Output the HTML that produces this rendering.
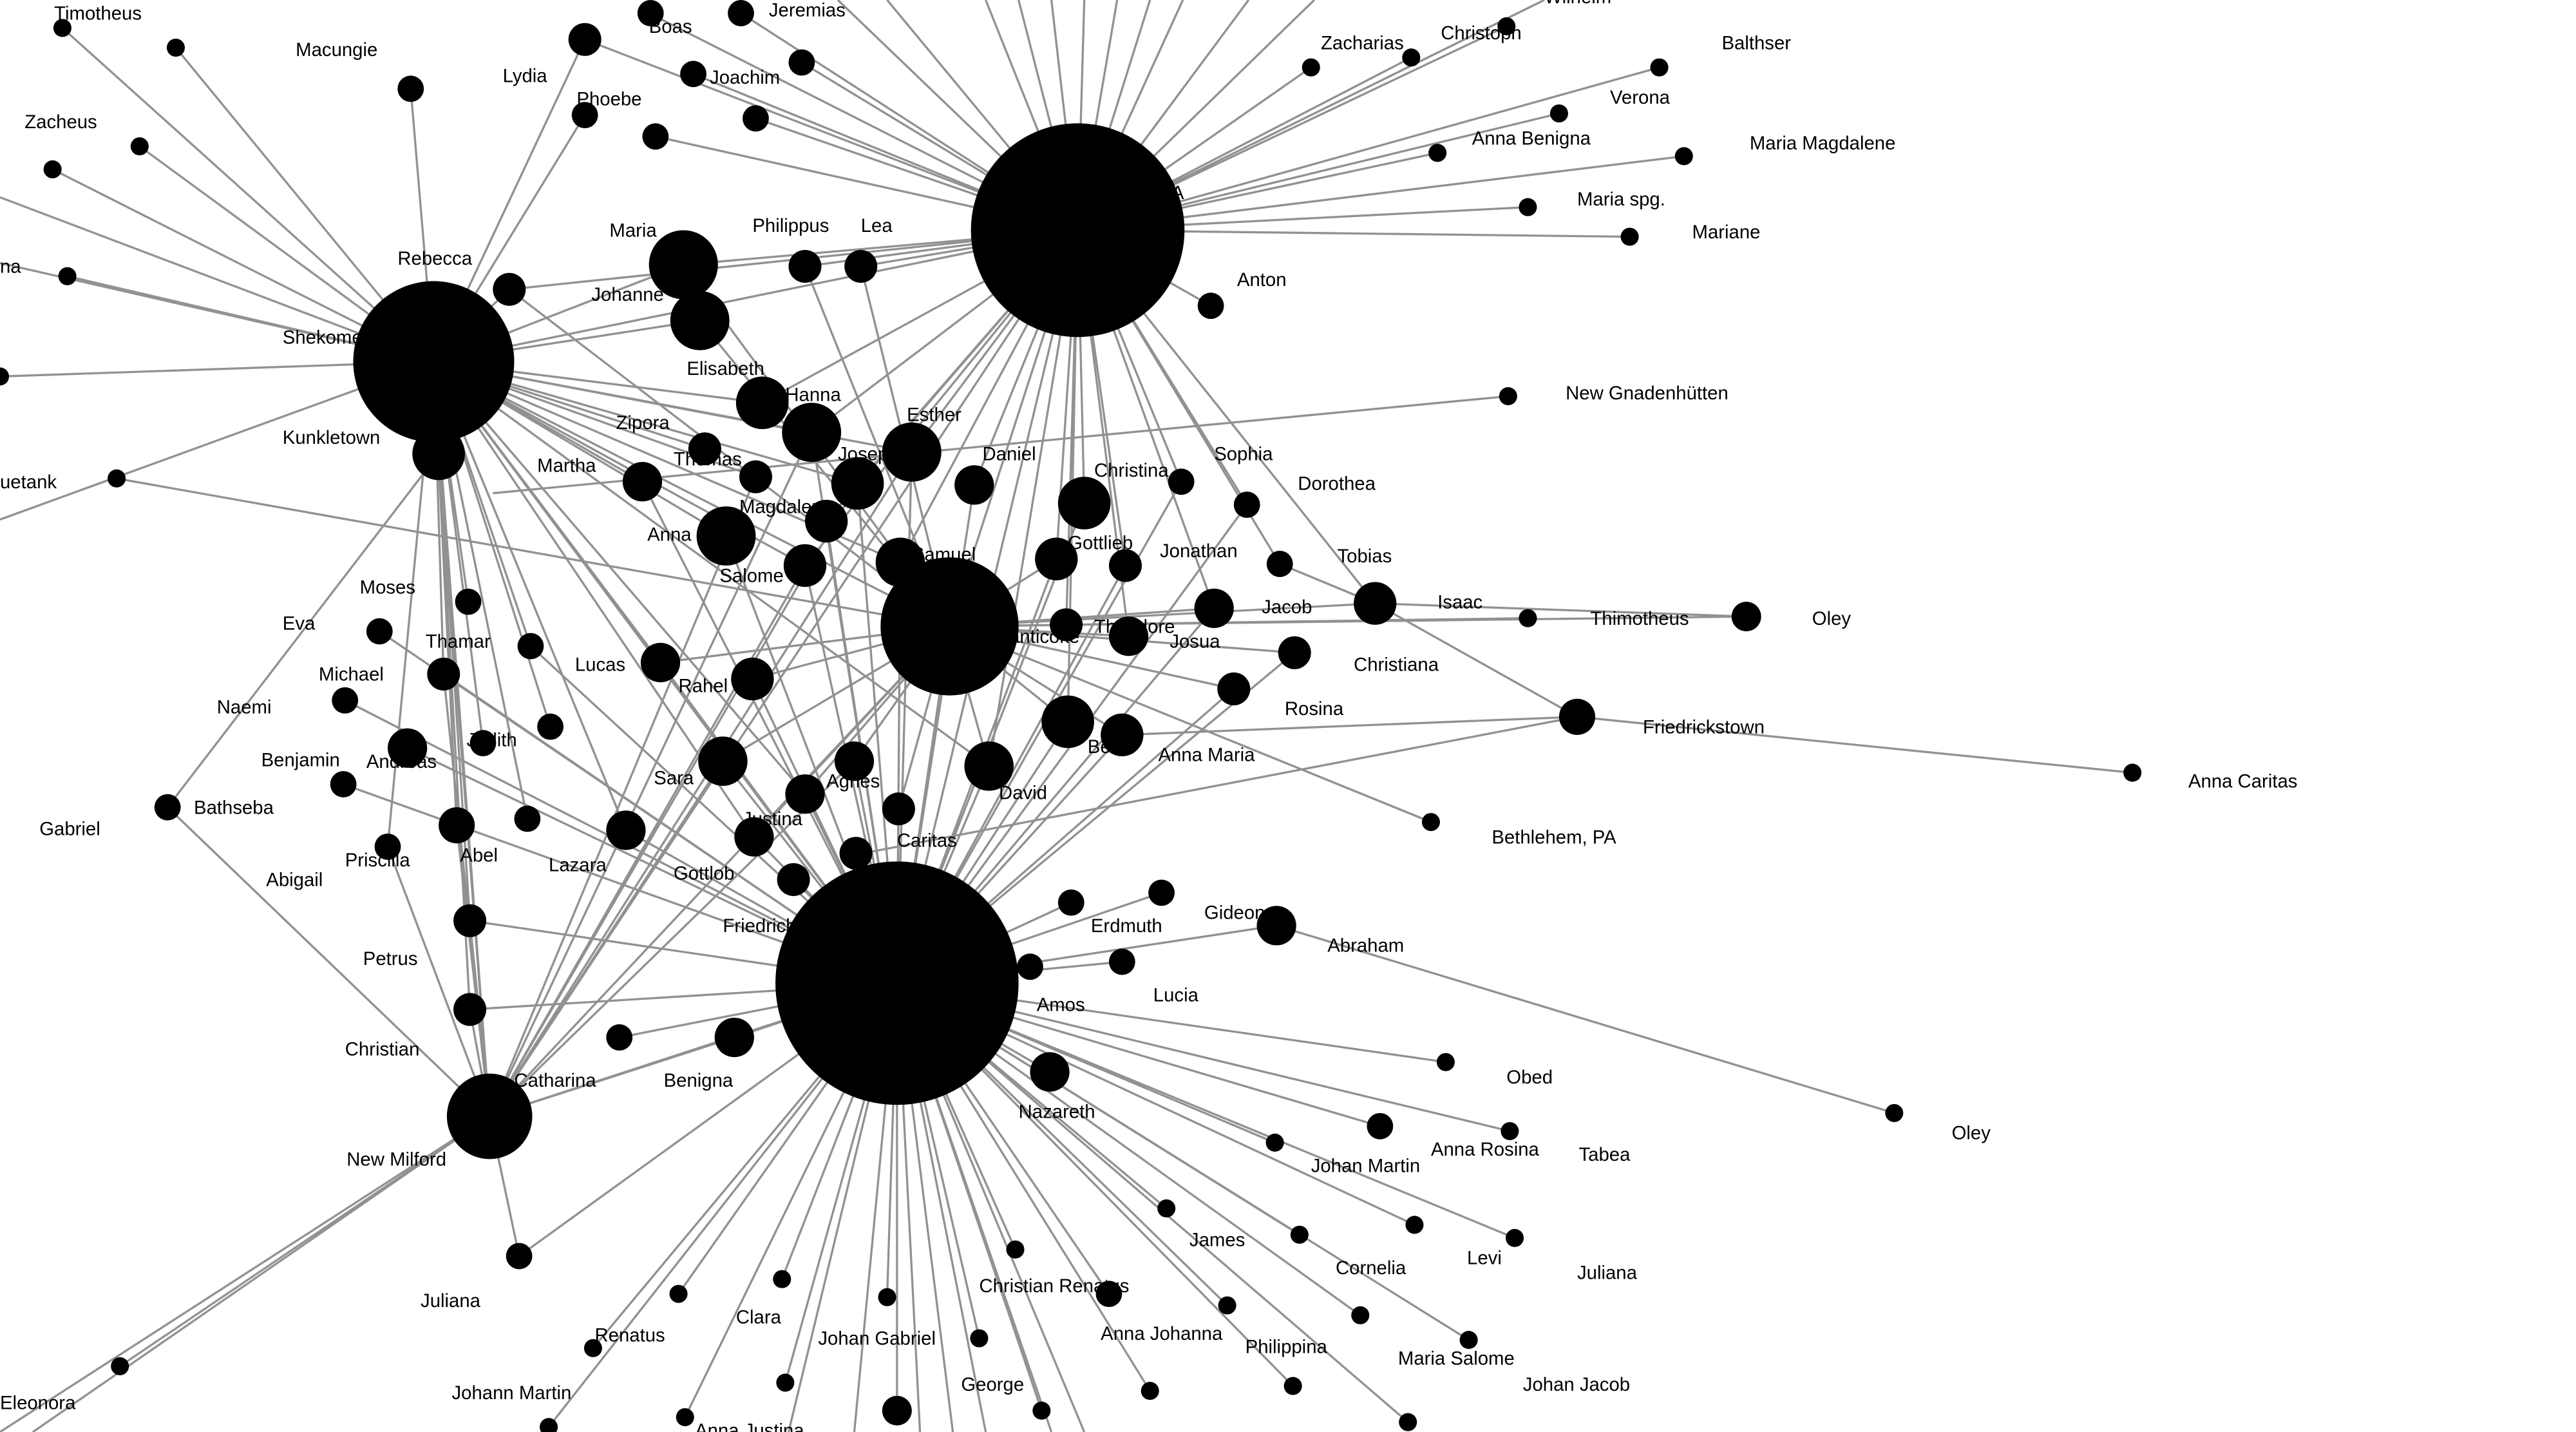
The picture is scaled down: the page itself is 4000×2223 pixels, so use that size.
<!DOCTYPE html>
<html><head><meta charset="utf-8"><style>
html,body{margin:0;padding:0;background:#fff;width:4000px;height:2223px;overflow:hidden}
svg{display:block}
text{font-family:"Liberation Sans",Arial,sans-serif;font-size:11.5px;fill:#000}
</style></head><body>
<svg width="4000" height="2223" viewBox="0 0 1568 871" preserveAspectRatio="none" xmlns="http://www.w3.org/2000/svg">
<rect width="1568" height="871" fill="#fff"/>
<g stroke="#8c8c8c" stroke-width="1.3" fill="none" opacity="0.95">
<path d="M656 140L356 24M656 140L395 8M656 140L451 8M656 140L488 38M656 140L422 45M656 140L460 72M656 140L399 83M656 140L416 161M656 140L490 162M656 140L524 162M656 140L310 176M656 140L264 220M656 140L737 186M656 140L798 41M656 140L859 35M656 140L917 16M656 140L1010 41M656 140L949 69M656 140L875 93M656 140L1025 95M656 140L930 126M656 140L992 144M656 140L600 0M656 140L620 0M656 140L640 0M656 140L660 0M656 140L680 0M656 140L700 0M656 140L720 0M656 140L760 0M656 140L800 0M656 140L540 0M656 140L510 0M656 140L940 0M656 140L660 306M656 140L643 340M656 140L685 344M656 140L719 293M656 140L759 307M656 140L779 343M656 140L837 367M656 140L578 381M656 140L546 598M656 140L555 275M656 140L593 295M656 140L522 294M656 140L494 263M656 140L464 245M656 140L739 370M656 140L649 380M656 140L687 387M656 140L548 342M656 140L503 317M656 140L602 466M656 140L650 439M656 140L298 679M656 140L490 344"/>
<path d="M264 220L107 29M264 220L38 17M264 220L250 54M264 220L85 89M264 220L32 103M264 220L41 168M264 220L0 229M264 220L0 160M264 220L0 316M264 220L356 70M264 220L356 24M264 220L310 176M264 220L416 161M264 220L426 195M264 220L464 245M264 220L494 263M264 220L429 273M264 220L460 290M264 220L391 293M264 220L442 326M264 220L490 344M264 220L548 342M264 220L578 381M264 220L546 598M264 220L267 276M264 220L298 679M264 220L285 366M264 220L323 393M264 220L270 410M264 220L335 442M264 220L294 452M264 220L278 502M264 220L321 498M264 220L236 515M264 220L381 505M264 220L402 403M264 220L286 560M264 220L286 614M264 220L522 294M264 220L555 275M264 220L0 120M264 220L602 466M264 220L490 483M264 220L459 509M71 291L578 381M300 300L918 241M102 491L267 276"/>
<path d="M578 381L402 403M578 381L458 413M578 381L440 463M578 381L520 463M578 381L490 483M578 381L547 492M578 381L459 509M578 381L298 679M578 381L546 598M578 381L650 439M578 381L683 447M578 381L602 466M578 381L739 370M578 381L837 367M578 381L1063 375M578 381L649 380M578 381L687 387M578 381L643 340M578 381L490 162M578 381L524 162M578 381L416 161M578 381L426 195M578 381L871 500M578 381L788 397M578 381L751 419M578 381L310 176M578 381L930 376M837 367L960 436M837 367L1063 375M1298 470L960 436M960 436L520 520M779 343L837 367M777 563L1153 677M683 447L960 436"/>
<path d="M546 598L402 403M546 598L458 413M546 598L440 463M546 598L520 463M546 598L490 483M546 598L547 492M546 598L459 509M546 598L521 519M546 598L483 535M546 598L381 505M546 598L447 631M546 598L377 631M546 598L298 679M546 598L286 560M546 598L286 614M546 598L209 477M546 598L248 455M546 598L210 426M546 598L231 384M546 598L652 549M546 598L707 543M546 598L627 588M546 598L683 585M546 598L777 563M546 598L639 652M546 598L880 646M546 598L840 685M546 598L919 688M546 598L776 695M546 598L710 735M546 598L791 751M546 598L861 745M546 598L922 753M546 598L618 760M546 598L675 787M546 598L747 794M546 598L828 800M546 598L894 815M546 598L787 843M546 598L857 865M546 598L700 846M546 598L634 858M546 598L596 814M546 598L540 789M546 598L546 858M546 598L476 778M546 598L413 787M546 598L361 820M546 598L478 841M546 598L417 862M546 598L334 868M546 598L316 764M546 598L520 871M546 598L560 871M546 598L600 871M546 598L640 871M546 598L660 871M546 598L480 871M546 598L580 871M546 598L522 294M546 598L555 275M546 598L593 295M546 598L494 263M546 598L660 306M546 598L643 340M546 598L685 344M546 598L719 293M546 598L602 466M546 598L650 439M546 598L683 447M546 598L391 293M546 598L442 326M546 598L490 344M546 598L503 317M546 598L548 342M546 598L759 307M546 598L739 370M546 598L751 419M546 598L788 397M546 598L270 410M546 598L323 393"/>
<path d="M298 679L73 831M298 679L316 764M298 679L102 491M298 679L0 871M298 679L286 614M298 679L286 560M298 679L278 502M298 679L267 276M298 679L555 275M298 679L522 294M298 679L494 263M298 679L460 290M298 679L490 344M298 679L447 631M298 679L440 463M298 679L520 463M298 679L270 410M298 679L236 515M298 679L20 871"/>
</g>
<g fill="#000">
<circle cx="656" cy="140" r="65"/><circle cx="264" cy="220" r="49"/><circle cx="578" cy="381" r="42"/><circle cx="546" cy="598" r="74"/><circle cx="298" cy="679" r="26"/>
<circle cx="38" cy="17" r="5.5"/><circle cx="107" cy="29" r="5.5"/><circle cx="250" cy="54" r="8"/><circle cx="356" cy="24" r="10"/><circle cx="396" cy="8" r="8"/><circle cx="451" cy="8" r="8"/><circle cx="488" cy="38" r="8"/><circle cx="422" cy="45" r="8"/><circle cx="356" cy="70" r="8"/><circle cx="399" cy="83" r="8"/><circle cx="460" cy="72" r="8"/><circle cx="85" cy="89" r="5.5"/><circle cx="32" cy="103" r="5.5"/><circle cx="41" cy="168" r="5.5"/><circle cx="310" cy="176" r="10"/><circle cx="416" cy="161" r="21"/><circle cx="426" cy="195" r="18"/><circle cx="490" cy="162" r="10"/><circle cx="524" cy="162" r="10"/><circle cx="737" cy="186" r="8"/><circle cx="798" cy="41" r="5.5"/><circle cx="859" cy="35" r="5.5"/><circle cx="917" cy="16" r="5.5"/><circle cx="1010" cy="41" r="5.5"/><circle cx="949" cy="69" r="5.5"/><circle cx="875" cy="93" r="5.5"/><circle cx="1025" cy="95" r="5.5"/><circle cx="930" cy="126" r="5.5"/><circle cx="992" cy="144" r="5.5"/><circle cx="918" cy="241" r="5.5"/>
<circle cx="267" cy="276" r="16"/><circle cx="0" cy="229" r="5.5"/><circle cx="71" cy="291" r="5.5"/><circle cx="464" cy="245" r="16"/><circle cx="494" cy="263" r="18"/><circle cx="429" cy="273" r="10"/><circle cx="460" cy="290" r="10"/><circle cx="522" cy="294" r="16"/><circle cx="555" cy="275" r="18"/><circle cx="593" cy="295" r="12"/><circle cx="391" cy="293" r="12"/><circle cx="442" cy="326" r="18"/><circle cx="503" cy="317" r="13"/><circle cx="490" cy="344" r="13"/><circle cx="548" cy="342" r="15"/><circle cx="660" cy="306" r="16"/><circle cx="719" cy="293" r="8"/><circle cx="759" cy="307" r="8"/><circle cx="643" cy="340" r="13"/><circle cx="685" cy="344" r="10"/><circle cx="779" cy="343" r="8"/><circle cx="837" cy="367" r="13"/><circle cx="930" cy="376" r="5.5"/><circle cx="1063" cy="375" r="9"/><circle cx="739" cy="370" r="12"/><circle cx="649" cy="380" r="10"/><circle cx="687" cy="387" r="12"/><circle cx="788" cy="397" r="10"/><circle cx="751" cy="419" r="10"/><circle cx="650" cy="439" r="16"/><circle cx="683" cy="447" r="13"/><circle cx="960" cy="436" r="11"/><circle cx="1298" cy="470" r="5.5"/><circle cx="871" cy="500" r="5.5"/><circle cx="602" cy="466" r="15"/>
<circle cx="285" cy="366" r="8"/><circle cx="231" cy="384" r="8"/><circle cx="323" cy="393" r="8"/><circle cx="270" cy="410" r="10"/><circle cx="210" cy="426" r="8"/><circle cx="248" cy="455" r="12"/><circle cx="335" cy="442" r="8"/><circle cx="294" cy="452" r="8"/><circle cx="209" cy="477" r="8"/><circle cx="102" cy="491" r="8"/><circle cx="278" cy="502" r="11"/><circle cx="321" cy="498" r="8"/><circle cx="236" cy="515" r="8"/><circle cx="402" cy="403" r="12"/><circle cx="458" cy="413" r="13"/><circle cx="440" cy="463" r="15"/><circle cx="520" cy="463" r="12"/><circle cx="490" cy="483" r="12"/><circle cx="547" cy="492" r="10"/><circle cx="381" cy="505" r="12"/><circle cx="459" cy="509" r="12"/><circle cx="521" cy="519" r="10"/><circle cx="483" cy="535" r="10"/><circle cx="286" cy="560" r="10"/><circle cx="286" cy="614" r="10"/><circle cx="377" cy="631" r="8"/><circle cx="447" cy="631" r="12"/><circle cx="316" cy="764" r="8"/><circle cx="73" cy="831" r="5.5"/>
<circle cx="652" cy="549" r="8"/><circle cx="707" cy="543" r="8"/><circle cx="627" cy="588" r="8"/><circle cx="683" cy="585" r="8"/><circle cx="777" cy="563" r="12"/><circle cx="639" cy="652" r="12"/><circle cx="880" cy="646" r="5.5"/><circle cx="1153" cy="677" r="5.5"/><circle cx="840" cy="685" r="8"/><circle cx="919" cy="688" r="5.5"/><circle cx="776" cy="695" r="5.5"/><circle cx="710" cy="735" r="5.5"/><circle cx="791" cy="751" r="5.5"/><circle cx="861" cy="745" r="5.5"/><circle cx="922" cy="753" r="5.5"/><circle cx="618" cy="760" r="5.5"/><circle cx="675" cy="787" r="8"/><circle cx="747" cy="794" r="5.5"/><circle cx="828" cy="800" r="5.5"/><circle cx="894" cy="815" r="5.5"/><circle cx="787" cy="843" r="5.5"/><circle cx="857" cy="865" r="5.5"/><circle cx="700" cy="846" r="5.5"/><circle cx="634" cy="858" r="5.5"/><circle cx="596" cy="814" r="5.5"/><circle cx="540" cy="789" r="5.5"/><circle cx="546" cy="858" r="9"/><circle cx="476" cy="778" r="5.5"/><circle cx="413" cy="787" r="5.5"/><circle cx="361" cy="820" r="5.5"/><circle cx="478" cy="841" r="5.5"/><circle cx="417" cy="862" r="5.5"/><circle cx="334" cy="868" r="5.5"/>
</g>
<g>
<text x="33" y="12">Timotheus</text><text x="180" y="34">Macungie</text><text x="395" y="20">Boas</text><text x="468" y="10">Jeremias</text><text x="432" y="51">Joachim</text><text x="351" y="64">Phoebe</text><text x="306" y="50">Lydia</text><text x="15" y="78">Zacheus</text><text x="0" y="166">na</text><text x="242" y="161">Rebecca</text><text x="371" y="144">Maria</text><text x="360" y="183">Johanne</text><text x="458" y="141">Philippus</text><text x="524" y="141">Lea</text><text x="753" y="174">Anton</text><text x="804" y="30">Zacharias</text><text x="877" y="24">Christoph</text><text x="940" y="2">Wilhelm</text><text x="1048" y="30">Balthser</text><text x="980" y="63">Verona</text><text x="896" y="88">Anna Benigna</text><text x="1065" y="91">Maria Magdalene</text><text x="960" y="125">Maria spg.</text><text x="1030" y="145">Mariane</text><text x="953" y="243">New Gnadenhütten</text><text x="713" y="121">A</text>
<text x="172" y="209">Shekome</text><text x="172" y="270">Kunkletown</text><text x="0" y="297">uetank</text><text x="418" y="228">Elisabeth</text><text x="478" y="244">Hanna</text><text x="375" y="261">Zipora</text><text x="410" y="283">Thomas</text><text x="510" y="280">Joseph</text><text x="552" y="256">Esther</text><text x="598" y="280">Daniel</text><text x="327" y="287">Martha</text><text x="394" y="329">Anna</text><text x="450" y="312">Magdalena</text><text x="438" y="354">Salome</text><text x="555" y="341">Samuel</text><text x="666" y="290">Christina</text><text x="739" y="280">Sophia</text><text x="790" y="298">Dorothea</text><text x="650" y="334">Gottlieb</text><text x="706" y="339">Jonathan</text><text x="814" y="342">Tobias</text><text x="875" y="370">Isaac</text><text x="968" y="380">Thimotheus</text><text x="1103" y="380">Oley</text><text x="768" y="373">Jacob</text><text x="606" y="391">Nanticoke</text><text x="666" y="385">Theodore</text><text x="712" y="394">Josua</text><text x="824" y="408">Christiana</text><text x="782" y="435">Rosina</text><text x="662" y="458">Be</text><text x="705" y="463">Anna Maria</text><text x="1000" y="446">Friedrickstown</text><text x="1332" y="479">Anna Caritas</text><text x="908" y="513">Bethlehem, PA</text><text x="608" y="486">David</text>
<text x="219" y="361">Moses</text><text x="172" y="383">Eva</text><text x="259" y="394">Thamar</text><text x="194" y="414">Michael</text><text x="132" y="434">Naemi</text><text x="223" y="467">Andreas</text><text x="284" y="454">Judith</text><text x="159" y="466">Benjamin</text><text x="118" y="495">Bathseba</text><text x="24" y="508">Gabriel</text><text x="280" y="524">Abel</text><text x="334" y="530">Lazara</text><text x="210" y="527">Priscilla</text><text x="162" y="539">Abigail</text><text x="350" y="408">Lucas</text><text x="413" y="421">Rahel</text><text x="398" y="477">Sara</text><text x="503" y="479">Agnes</text><text x="452" y="502">Justina</text><text x="546" y="515">Caritas</text><text x="410" y="535">Gottlob</text><text x="440" y="567">Friedrich</text><text x="221" y="587">Petrus</text><text x="210" y="642">Christian</text><text x="313" y="661">Catharina</text><text x="404" y="661">Benigna</text><text x="211" y="709">New Milford</text><text x="256" y="795">Juliana</text><text x="0" y="857">Eleonora</text>
<text x="664" y="567">Erdmuth</text><text x="631" y="615">Amos</text><text x="702" y="609">Lucia</text><text x="733" y="559">Gideon</text><text x="808" y="579">Abraham</text><text x="620" y="680">Nazareth</text><text x="917" y="659">Obed</text><text x="1188" y="693">Oley</text><text x="871" y="703">Anna Rosina</text><text x="961" y="706">Tabea</text><text x="798" y="713">Johan Martin</text><text x="724" y="758">James</text><text x="813" y="775">Cornelia</text><text x="893" y="769">Levi</text><text x="960" y="778">Juliana</text><text x="596" y="786">Christian Renatus</text><text x="670" y="815">Anna Johanna</text><text x="758" y="823">Philippina</text><text x="851" y="830">Maria Salome</text><text x="927" y="846">Johan Jacob</text><text x="585" y="846">George</text><text x="498" y="818">Johan Gabriel</text><text x="448" y="805">Clara</text><text x="362" y="816">Renatus</text><text x="275" y="851">Johann Martin</text><text x="423" y="874">Anna Justina</text>
</g>
</svg>
</body></html>
